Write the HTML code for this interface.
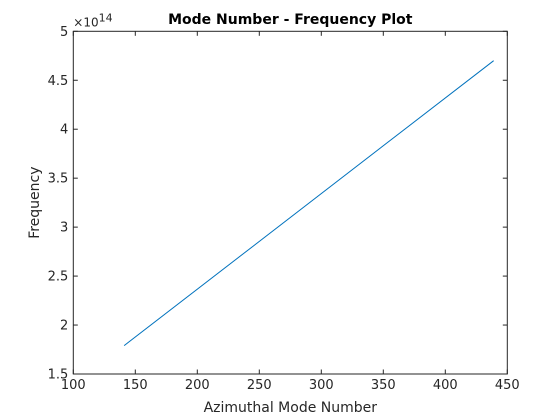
<!DOCTYPE html>
<html><head><meta charset="utf-8"><style>
html,body{margin:0;padding:0;background:#fff;}
svg{display:block;font-family:"DejaVu Sans","Liberation Sans",sans-serif;}
</style></head><body>
<svg id="chart" width="560" height="420"></svg>
<script>
const xValues = [141, 439];
const yValues = [1.79, 4.70];
const xTicks = [100,150,200,250,300,350,400,450];
const yTicks = [1.5,2,2.5,3,3.5,4,4.5,5];
const yTickLabels = ["1.5","2","2.5","3","3.5","4","4.5","5"];

const L=73.3,R=507.3,T=31.3,B=374;
const xmin=100,xmax=450,ymin=1.5,ymax=5;
const sx=v=>L+(v-xmin)/(xmax-xmin)*(R-L);
const sy=v=>B-(v-ymin)/(ymax-ymin)*(B-T);
const NS="http://www.w3.org/2000/svg";
const svg=document.getElementById('chart');
function mk(tag,attrs,parent){const e=document.createElementNS(NS,tag);for(const k in attrs)e.setAttribute(k,attrs[k]);(parent||svg).appendChild(e);return e;}

const box=mk('rect',{x:L,y:T,width:R-L,height:B-T,fill:'#fff',stroke:'#262626','stroke-width':1});



xTicks.forEach(t=>{
  const x=sx(t);
  const g=mk('g',{});
  
  
  mk('line',{x1:x,y1:B,x2:x,y2:B-4.5,stroke:'#262626'},g);
  mk('line',{x1:x,y1:T,x2:x,y2:T+4.5,stroke:'#262626'},g);
  const tx=mk('text',{x:x,y:B+15,'text-anchor':'middle','font-size':13,fill:'#262626'},g);
  tx.textContent=t;
});
yTicks.forEach((t,i)=>{
  const y=sy(t);
  const g=mk('g',{});
  
  
  mk('line',{x1:L,y1:y,x2:L+4.5,y2:y,stroke:'#262626'},g);
  mk('line',{x1:R,y1:y,x2:R-4.5,y2:y,stroke:'#262626'},g);
  const tx=mk('text',{x:L-5,y:y+4.5,'text-anchor':'end','font-size':13,fill:'#262626'},g);
  tx.textContent=yTickLabels[i];
});

const exp=mk('text',{x:L,y:T-5,'font-size':12,fill:'#262626'});


exp.innerHTML='×10<tspan dy="-5" font-size="11">14</tspan>';

const line=mk('polyline',{points:xValues.map((v,i)=>sx(v)+','+sy(yValues[i])).join(' '),fill:'none',stroke:'#0072BD','stroke-width':1});



const title=mk('text',{x:(L+R)/2,y:24,'text-anchor':'middle','font-size':14,'font-weight':'bold',fill:'#000'});


title.textContent='Mode Number - Frequency Plot';

const xl=mk('text',{x:(L+R)/2,y:412,'text-anchor':'middle','font-size':14,fill:'#262626'});


xl.textContent='Azimuthal Mode Number';

const yl=mk('text',{x:0,y:0,'text-anchor':'middle','font-size':14,fill:'#262626',transform:'translate(39,'+((T+B)/2)+') rotate(-90)'});


yl.textContent='Frequency';
</script>
</body></html>
